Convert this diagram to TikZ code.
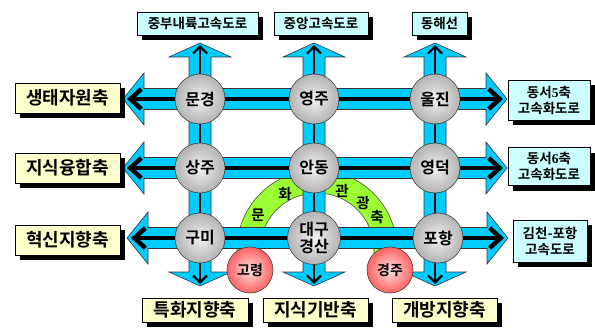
\documentclass[tikz,border=0pt]{standalone}
\usepackage{fontspec}
\setmainfont{Noto Sans CJK KR}[UprightFont={* Bold}]
\newfontfamily\dg{Liberation Serif}[UprightFont={* Bold}]
\usetikzlibrary{shadows,arrows.meta}
\definecolor{axblue}{HTML}{00CCFF}
\definecolor{bandgreen}{HTML}{99FF33}
\definecolor{ybox}{HTML}{FFFFCC}
\definecolor{cbox}{HTML}{CCFFFF}
\tikzset{
  axis/.style={fill=axblue,draw=black!80,line width=0.6pt,line join=miter},
  hcore/.style={line width=4.5pt,{Straight Barb[length=11pt,width=20pt]}-{Straight Barb[length=11pt,width=20pt]}},
  vcore/.style={line width=2.2pt,{Straight Barb[length=7pt,width=14pt]}-{Straight Barb[length=7pt,width=14pt]}},
  gcirc/.style={circle,minimum size=50pt,inner sep=0pt,draw=black!75,line width=0.6pt,inner color=gray!10,outer color=gray!60,font=\fontsize{16}{20}\selectfont,align=center},
  rcirc/.style={circle,minimum size=46pt,inner sep=0pt,draw=black!75,line width=0.6pt,inner color=red!12,outer color=red!62,font=\fontsize{14}{16}\selectfont},
  boxbase/.style={draw=black,line width=0.6pt,inner sep=0pt,align=center,
    drop shadow={shadow xshift=5pt,shadow yshift=-5pt,fill=black,opacity=1}},
  ybx/.style={boxbase,fill=ybox,font=\fontsize{18}{20}\selectfont},
  tbx/.style={boxbase,fill=cbox,font=\fontsize{13.5}{16}\selectfont,minimum height=23pt},
  rbx/.style={boxbase,fill=cbox,font=\fontsize{13.5}{16}\selectfont},
  bandtxt/.style={font=\fontsize{14.5}{16}\selectfont,inner sep=0pt}
}
\newcommand{\harrow}[5]{%
  \filldraw[axis] (#2,#1) -- (#3,#1-26) -- (#3,#1-10.5) -- (#4,#1-10.5) -- (#4,#1-26) -- (#5,#1)
    -- (#4,#1+26) -- (#4,#1+10.5) -- (#3,#1+10.5) -- (#3,#1+26) -- cycle;
  \draw[hcore] (#2+4,#1) -- (#5-4,#1);}
\newcommand{\varrow}[1]{%
  \filldraw[axis] (#1,43) -- (#1+31,57) -- (#1+11,57) -- (#1+11,272) -- (#1+31,272) -- (#1,286)
    -- (#1-31,272) -- (#1-11,272) -- (#1-11,57) -- (#1-31,57) -- cycle;
  \draw[vcore] (#1,45) -- (#1,284);}
\begin{document}
\begin{tikzpicture}[x=1pt,y=-1pt]
\useasboundingbox (0,0) rectangle (595,329);
% cultural tourism band
\filldraw[fill=bandgreen,draw=black!70,line width=0.6pt]
  (237,262) -- (237,250) arc[start angle=180,end angle=0,radius=80pt] -- (397,262) -- (374,262)
  -- (374,250) arc[start angle=0,end angle=180,radius=57pt] -- (260,262) -- cycle;
% axes
\varrow{200}
\varrow{314}
\varrow{435}
\harrow{99}{123}{144}{486}{507}
\harrow{168}{123}{144}{486}{507}
\harrow{238}{127}{148}{487}{508}
% band text
\node[bandtxt] (t1) at (258,215) {문};
\node[bandtxt] (t2) at (285,194) {화};
\node[bandtxt] (t3) at (342,191) {관};
\node[bandtxt] (t4) at (363,203) {광};
\node[bandtxt] (t5) at (377,217) {축};
% cities
\node[gcirc] (mg) at (200,99) {문경};
\node[gcirc] (yj) at (314,99) {영주};
\node[gcirc] (uj) at (435,99) {울진};
\node[gcirc] (sj) at (200,168) {상주};
\node[gcirc] (ad) at (314,168) {안동};
\node[gcirc] (yd) at (435,168) {영덕};
\node[gcirc] (gm) at (200,238) {구미};
\node[gcirc,minimum size=53pt] (dg) at (314,238) {대구\\[-3pt]경산};
\node[gcirc] (ph) at (438,238) {포항};
\node[rcirc] (gr) at (250,270) {고령};
\node[rcirc] (gj) at (390,270) {경주};
% top boxes
\node[tbx,minimum width=121pt] (b1) at (197.5,23.5) {중부내륙고속도로};
\node[tbx,minimum width=94pt] (b2) at (321,23.5) {중앙고속도로};
\node[tbx,minimum width=55pt] (b3) at (439.5,23.5) {동해선};
% left boxes
\node[ybx,minimum width=105pt,minimum height=30pt] (l1) at (67.5,98) {생태자원축};
\node[ybx,minimum width=105pt,minimum height=30pt] (l2) at (67.5,168) {지식융합축};
\node[ybx,minimum width=105pt,minimum height=30pt] (l3) at (67.5,240) {혁신지향축};
% right boxes
\node[rbx,minimum width=82pt,minimum height=40pt] (r1) at (549,100) {동서{\dg 5}축\\고속화도로};
\node[rbx,minimum width=82pt,minimum height=38pt] (r2) at (549,166.5) {동서{\dg 6}축\\고속화도로};
\node[rbx,minimum width=74pt,minimum height=42pt] (r3) at (550,241) {김천-포항\\고속도로};
% bottom boxes
\node[ybx,minimum width=106pt,minimum height=24pt] (d1) at (195,310) {특화지향축};
\node[ybx,minimum width=105pt,minimum height=24pt] (d2) at (315.5,310) {지식기반축};
\node[ybx,minimum width=105pt,minimum height=24pt] (d3) at (444.5,310) {개방지향축};
\end{tikzpicture}
\end{document}
